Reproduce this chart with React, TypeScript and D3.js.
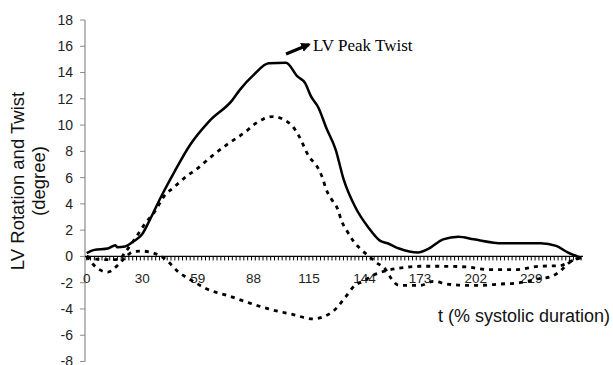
import React, { useEffect, useRef } from "react";
import * as d3 from "d3";

// sample index (0..259) -> degree
const twistIdx = [0, 4, 11, 15, 16, 20, 24, 29, 33, 39, 46, 54, 64, 76, 80, 87, 95, 104, 110, 114, 117, 121, 125, 130, 134, 140, 147, 153, 157, 163, 173, 178, 186, 194, 202, 217, 237, 245, 251, 258];
const twistVal = [0.25, 0.5, 0.6, 0.85, 0.7, 0.75, 1.1, 1.7, 2.8, 4.6, 6.5, 8.5, 10.3, 11.9, 12.7, 13.8, 14.7, 14.75, 13.7, 13.2, 12.2, 11.3, 9.8, 8.1, 5.9, 3.8, 2.2, 1.2, 1.0, 0.6, 0.3, 0.55, 1.3, 1.5, 1.3, 1.0, 1.0, 0.8, 0.3, -0.1];

const apicalIdx = [0, 5, 12, 17, 20, 25, 31, 35, 41, 45, 53, 57, 65, 74, 83, 87, 92, 97, 103, 108, 111, 116, 120, 123, 125, 128, 131, 133, 136, 139, 143, 147, 151, 156, 159, 163, 174, 181, 188, 198, 205, 216, 226, 236, 243, 248, 252, 257];
const apicalVal = [0, -0.2, -0.25, -0.2, 0.3, 1.3, 2.6, 3.3, 4.7, 5.2, 6.2, 6.6, 7.6, 8.6, 9.5, 10.0, 10.45, 10.65, 10.4, 9.8, 9.1, 7.6, 6.9, 6.0, 5.1, 4.3, 3.6, 2.7, 1.9, 1.2, 0.55, 0.05, -0.45, -1.0, -1.7, -2.2, -2.2, -1.9, -2.1, -2.2, -2.2, -2.1, -2.0, -1.7, -1.5, -1.0, -0.45, -0.1];

const basalIdx = [0, 4, 11, 16, 21, 24, 29, 35, 41, 48, 55, 63, 74, 84, 95, 107, 118, 128, 135, 140, 144, 150, 156, 163, 174, 186, 198, 210, 224, 236, 247, 252, 258];
const basalVal = [0, -0.7, -1.2, -0.7, 0.05, 0.35, 0.4, 0.25, -0.2, -1.2, -1.85, -2.5, -3.0, -3.5, -4.0, -4.4, -4.75, -4.25, -3.1, -2.2, -1.9, -1.4, -1.1, -0.9, -0.75, -0.75, -0.8, -1.0, -1.0, -0.75, -0.7, -0.4, -0.1];

const xLabels = ["0", "30", "59", "88", "115", "144", "173", "202", "229"];
const yTicks = [-8, -6, -4, -2, 0, 2, 4, 6, 8, 10, 12, 14, 16, 18];

export default function App() {
  const ref = useRef<SVGSVGElement>(null);

  useEffect(() => {
    const width = 613;
    const height = 365;
    const svg = d3.select(ref.current);
    svg.selectAll("*").remove();
    svg.attr("width", width).attr("height", height);

    const x = d3.scaleLinear().domain([0, 259]).range([86.7, 583]);
    const y = d3.scaleLinear().domain([-8, 18]).range([361.5, 20]);

    // y axis (grey line, ticks outside)
    svg.append("line")
      .attr("x1", 85).attr("x2", 85)
      .attr("y1", y(18)).attr("y2", y(-8))
      .attr("stroke", "#8c8c8c").attr("stroke-width", 1.2);

    const yg = svg.append("g");
    yg.selectAll("line").data(yTicks).enter().append("line")
      .attr("x1", 80).attr("x2", 85)
      .attr("y1", d => y(d)).attr("y2", d => y(d))
      .attr("stroke", "#8c8c8c").attr("stroke-width", 1);
    yg.selectAll("text").data(yTicks).enter().append("text")
      .attr("x", 73).attr("y", d => y(d))
      .attr("dy", "0.35em")
      .attr("text-anchor", "end")
      .attr("font-family", "Arial, 'Liberation Sans', sans-serif")
      .attr("font-size", 14)
      .attr("fill", "#222")
      .text(d => d);

    // x axis along zero, small ticks every 2 samples
    svg.append("line")
      .attr("x1", 85).attr("x2", x(259))
      .attr("y1", y(0)).attr("y2", y(0))
      .attr("stroke", "#000").attr("stroke-width", 1.2);

    svg.append("g").selectAll("line").data(d3.range(0, 259, 2)).enter().append("line")
      .attr("x1", d => x(d)).attr("x2", d => x(d))
      .attr("y1", y(0)).attr("y2", y(0) + 4)
      .attr("stroke", "#000").attr("stroke-width", 1);

    svg.append("g").selectAll("text").data(xLabels).enter().append("text")
      .attr("x", (d, i) => x(i * 29))
      .attr("y", y(0) + 27)
      .attr("text-anchor", "middle")
      .attr("font-family", "Arial, 'Liberation Sans', sans-serif")
      .attr("font-size", 13.5)
      .attr("fill", "#222")
      .text(d => d);

    // curves
    const line = d3.line<[number, number]>()
      .x(d => x(d[0]))
      .y(d => y(d[1]))
      .curve(d3.curveMonotoneX);

    const zip = (a: number[], b: number[]) => a.map((v, i) => [v, b[i]] as [number, number]);

    svg.append("path")
      .datum(zip(basalIdx, basalVal))
      .attr("fill", "none").attr("stroke", "#000")
      .attr("stroke-width", 2.8).attr("stroke-dasharray", "4,5")
      .attr("d", line);

    svg.append("path")
      .datum(zip(apicalIdx, apicalVal))
      .attr("fill", "none").attr("stroke", "#000")
      .attr("stroke-width", 2.8).attr("stroke-dasharray", "4,5")
      .attr("d", line);

    svg.append("path")
      .datum(zip(twistIdx, twistVal))
      .attr("fill", "none").attr("stroke", "#000")
      .attr("stroke-width", 2.5)
      .attr("stroke-linejoin", "round")
      .attr("d", line);

    // axis titles
    const yt = svg.append("text")
      .attr("transform", "translate(24,181) rotate(-90)")
      .attr("text-anchor", "middle")
      .attr("font-family", "Arial, 'Liberation Sans', sans-serif")
      .attr("font-size", 18.5)
      .attr("fill", "#111");
    yt.append("tspan").attr("x", 0).attr("y", 0).text("LV Rotation and Twist");
    yt.append("tspan").attr("x", 0).attr("y", 21).text("(degree)");

    svg.append("text")
      .attr("x", 610).attr("y", 322)
      .attr("text-anchor", "end")
      .attr("font-family", "Arial, 'Liberation Sans', sans-serif")
      .attr("font-size", 18)
      .attr("fill", "#111")
      .text("t (% systolic duration)");

    // annotation
    svg.append("defs").append("marker")
      .attr("id", "ah").attr("viewBox", "0 0 10 10")
      .attr("refX", 8).attr("refY", 5)
      .attr("markerWidth", 3.2).attr("markerHeight", 3.2)
      .attr("orient", "auto")
      .append("path").attr("d", "M0,0L10,5L0,10z").attr("fill", "#000");

    svg.append("line")
      .attr("x1", 286).attr("y1", 54)
      .attr("x2", 309).attr("y2", 44.5)
      .attr("stroke", "#000").attr("stroke-width", 3)
      .attr("marker-end", "url(#ah)");

    svg.append("text")
      .attr("x", 313).attr("y", 50.5)
      .attr("font-family", "'Times New Roman', 'Liberation Serif', serif")
      .attr("font-size", 17)
      .attr("fill", "#000")
      .text("LV Peak Twist");
  }, []);

  return (
    <svg ref={ref} style={{ position: "absolute", left: 0, top: 0 }} />
  );
}
